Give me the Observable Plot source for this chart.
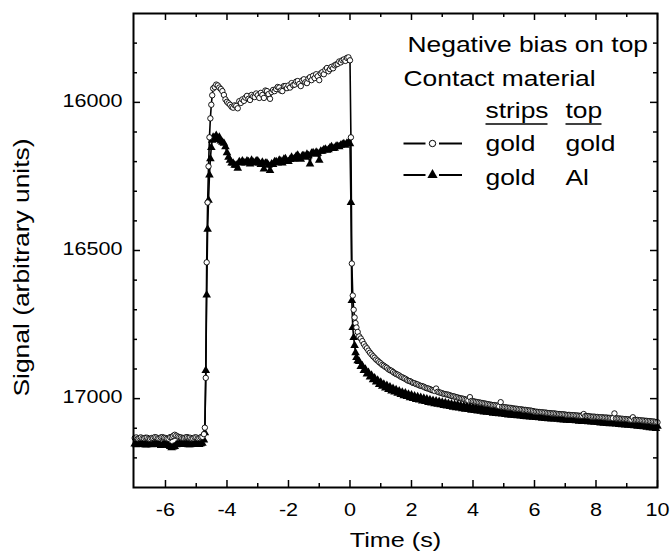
<!DOCTYPE html>
<html><head><meta charset="utf-8">
<script src="https://cdn.jsdelivr.net/npm/d3@7"></script>
<script src="https://cdn.jsdelivr.net/npm/@observablehq/plot@0.6"></script>
<style>body{margin:0;background:#fff}</style>
</head><body><div id="chart"></div>
<script>
// ---- data (time in s, signal in arbitrary units) ----
const time = [
// before the bias step
-7.00,-6.95,-6.90,-6.85,-6.80,-6.75,-6.70,-6.65,-6.60,-6.55,
-6.50,-6.45,-6.40,-6.35,-6.30,-6.25,-6.20,-6.15,-6.10,-6.05,
-6.00,-5.95,-5.90,-5.85,-5.80,-5.75,-5.70,-5.65,-5.60,-5.55,
-5.50,-5.45,-5.40,-5.35,-5.30,-5.25,-5.20,-5.15,-5.10,-5.05,
-5.00,-4.95,-4.90,-4.85,-4.80,
// rise
-4.75,-4.72,-4.69,-4.66,-4.63,-4.60,-4.57,-4.54,-4.51,-4.48,-4.45,
// plateau
-4.40,-4.35,-4.30,-4.25,-4.20,-4.15,-4.10,-4.05,-4.00,-3.95,
-3.90,-3.85,-3.80,-3.75,-3.70,-3.65,-3.60,-3.55,-3.50,-3.45,
-3.40,-3.35,-3.30,-3.25,-3.20,-3.15,-3.10,-3.05,-3.00,-2.95,
-2.90,-2.85,-2.80,-2.75,-2.70,-2.65,-2.60,-2.55,-2.50,-2.45,
-2.40,-2.35,-2.30,-2.25,-2.20,-2.15,-2.10,-2.05,-2.00,-1.95,
-1.90,-1.85,-1.80,-1.75,-1.70,-1.65,-1.60,-1.55,-1.50,-1.45,
-1.40,-1.35,-1.30,-1.25,-1.20,-1.15,-1.10,-1.05,-1.00,-0.95,
-0.90,-0.85,-0.80,-0.75,-0.70,-0.65,-0.60,-0.55,-0.50,-0.45,
-0.40,-0.35,-0.30,-0.25,-0.20,-0.15,-0.10,-0.05,0.00,
// fall
0.03,0.06,0.09,0.12,0.15,0.18,0.21,0.25,
// relaxation
0.30,0.35,0.40,0.45,0.50,0.55,0.60,0.65,0.70,0.75,
0.80,0.85,0.90,0.95,1.00,1.05,1.10,1.15,1.20,1.25,
1.30,1.35,1.40,1.45,1.50,1.55,1.60,1.65,1.70,1.75,
1.80,1.85,1.90,1.95,2.00,2.05,2.10,2.15,2.20,2.25,
2.30,2.35,2.40,2.45,2.50,2.55,2.60,2.65,2.70,2.75,
2.80,2.85,2.90,2.95,3.00,3.05,3.10,3.15,3.20,3.25,
3.30,3.35,3.40,3.45,3.50,3.55,3.60,3.65,3.70,3.75,
3.80,3.85,3.90,3.95,4.00,4.05,4.10,4.15,4.20,4.25,
4.30,4.35,4.40,4.45,4.50,4.55,4.60,4.65,4.70,4.75,
4.80,4.85,4.90,4.95,5.00,5.05,5.10,5.15,5.20,5.25,
5.30,5.35,5.40,5.45,5.50,5.55,5.60,5.65,5.70,5.75,
5.80,5.85,5.90,5.95,6.00,6.05,6.10,6.15,6.20,6.25,
6.30,6.35,6.40,6.45,6.50,6.55,6.60,6.65,6.70,6.75,
6.80,6.85,6.90,6.95,7.00,7.05,7.10,7.15,7.20,7.25,
7.30,7.35,7.40,7.45,7.50,7.55,7.60,7.65,7.70,7.75,
7.80,7.85,7.90,7.95,8.00,8.05,8.10,8.15,8.20,8.25,
8.30,8.35,8.40,8.45,8.50,8.55,8.60,8.65,8.70,8.75,
8.80,8.85,8.90,8.95,9.00,9.05,9.10,9.15,9.20,9.25,
9.30,9.35,9.40,9.45,9.50,9.55,9.60,9.65,9.70,9.75,
9.80,9.85,9.90,9.95,10.00
];
// strips: gold, top: gold (open circles)
const goldGold = [
17133,17131,17135,17133,17131,17134,17134,17132,17132,17135,
17136,17133,17133,17130,17131,17134,17134,17131,17130,17132,
17133,17135,17135,17130,17129,17126,17122,17125,17128,17130,
17131,17133,17133,17131,17130,17132,17132,17135,17134,17131,
17131,17134,17133,17130,17129,
17120,17098,16930,16540,16338,16216,16118,16054,16008,15976,15953,
15948,15940,15943,15950,15955,15962,15975,15990,15998,16003,
16008,16015,16018,16010,16012,16020,15996,16002,15990,15995,
15984,15978,15988,15992,15975,15980,15982,15970,15976,15985,
15968,15975,15985,15960,15962,15972,15988,15965,15958,15962,
15955,15948,15950,15960,15962,15945,15945,15952,15943,15950,
15935,15942,15940,15930,15928,15938,15945,15926,15922,15932,
15935,15920,15915,15925,15910,15918,15905,15912,15925,15902,
15898,15905,15890,15884,15895,15888,15880,15885,15875,15872,
15870,15862,15865,15858,15855,15860,15850,15848,15858,
16118,16544,16652,16700,16726,16745,16760,16775,
16790,16797,16806,16816,16824,16830,16838,16845,16851,16857,
16862,16868,16872,16877,16881,16886,16889,16893,16896,16901,
16904,16906,16910,16914,16917,16919,16922,16926,16928,16931,
16933,16937,16940,16941,16944,16947,16948,16951,16952,16955,
16957,16958,16960,16963,16965,16966,16968,16971,16972,16974,
16966,16977,16979,16980,16982,16984,16985,16986,16987,16989,
16991,16992,16993,16995,16996,16998,16999,17000,17001,17003,
17004,17006,16995,17008,17009,17010,17011,17012,17013,17014,
17015,17016,17017,17018,17019,17020,17021,17022,17022,17023,
17024,17026,17012,17028,17029,17029,17030,17031,17031,17032,
17033,17034,17034,17035,17036,17036,17037,17038,17038,17039,
17040,17040,17041,17042,17044,17044,17045,17045,17046,17046,
17047,17047,17048,17049,17049,17050,17050,17050,17051,17052,
17052,17053,17053,17053,17054,17055,17055,17055,17056,17056,
17056,17057,17057,17058,17058,17058,17052,17059,17059,17059,
17060,17061,17061,17061,17062,17062,17063,17063,17063,17064,
17064,17064,17065,17065,17066,17066,17050,17067,17067,17067,
17068,17068,17069,17069,17070,17070,17071,17071,17063,17072,
17072,17072,17073,17073,17074,17074,17075,17075,17076,17076,
17077,17077,17078,17079,17080
];
// strips: gold, top: Al (filled triangles)
const goldAl = [
17153,17156,17155,17152,17152,17155,17154,17157,17156,17153,
17153,17156,17155,17152,17152,17155,17154,17158,17157,17153,
17153,17155,17158,17162,17166,17163,17162,17156,17154,17152,
17152,17155,17155,17152,17153,17156,17156,17153,17154,17151,
17152,17155,17155,17152,17151,
17140,17115,16905,16650,16428,16330,16245,16190,16152,16128,16118,
16120,16112,16125,16118,16130,16135,16138,16150,16170,16185,
16195,16205,16205,16212,16212,16222,16200,16205,16198,16203,
16205,16198,16200,16208,16195,16202,16205,16198,16198,16205,
16210,16202,16225,16205,16205,16212,16230,16208,16210,16200,
16200,16205,16195,16198,16205,16192,16190,16200,16200,16193,
16185,16192,16190,16182,16178,16188,16192,16180,16180,16185,
16175,16180,16208,16172,16170,16175,16168,16172,16195,16165,
16165,16160,16158,16162,16160,16153,16150,16156,16155,16148,
16148,16150,16145,16142,16140,16145,16138,16136,16140,
16338,16669,16760,16794,16821,16845,16861,16872,
16875,16892,16889,16905,16901,16917,16912,16927,16921,16936,
16930,16944,16938,16952,16945,16958,16951,16964,16956,16969,
16961,16974,16966,16978,16970,16982,16974,16986,16978,16990,
16981,16993,16985,16997,16988,17000,16991,17003,16994,17005,
16996,17008,16999,17010,17001,17013,17004,17015,17006,17017,
17008,17019,17010,17021,17012,17023,17014,17025,17016,17027,
17018,17029,17020,17031,17021,17032,17023,17034,17025,17036,
17026,17037,17028,17039,17029,17040,17031,17042,17032,17043,
17034,17045,17035,17046,17036,17047,17038,17049,17039,17050,
17040,17051,17041,17052,17043,17054,17044,17055,17045,17056,
17046,17057,17047,17058,17048,17059,17049,17060,17050,17061,
17051,17062,17052,17063,17053,17064,17054,17065,17055,17066,
17056,17067,17057,17068,17058,17069,17059,17069,17059,17070,
17060,17071,17061,17072,17062,17073,17063,17074,17064,17074,
17064,17075,17065,17076,17066,17077,17067,17077,17067,17078,
17068,17079,17069,17080,17070,17081,17071,17082,17072,17083,
17073,17084,17074,17085,17075,17085,17075,17086,17076,17087,
17077,17088,17078,17089,17079,17090,17080,17091,17081,17092,
17082,17093,17083,17094,17084,17095,17086,17097,17087,17098,
17088,17099,17090,17101,17093
];
const xMajorTicks = [-6,-4,-2,0,2,4,6,8,10];
const xMinorTicks = [-5,-3,-1,1,3,5,7,9];
const yMajorTicks = [16000,16500,17000];
const yMinorTicks = [15800,15900,16100,16200,16300,16400,16600,16700,16800,16900,17100,17200];
const xLabel = "Time (s)";
const yLabel = "Signal (arbitrary units)";
const legendTitles = ["Negative bias on top","Contact material"];
const legendHeaders = ["strips","top"];
const legendStrips = ["gold","gold"];
const legendTop = ["gold","Al"];
const legendSymbols = ["circle","triangle"];

// ---- layout ----
const W = 671, H = 555, ML = 133, MR = 14, MT = 13, MB = 68;
const FW = W - ML - MR, FH = H - MT - MB;
const STRETCH = 1.2;
const font = "'Liberation Sans', Arial, sans-serif";
const rows = time.map((t, i) => ({t, a: goldGold[i], b: goldAl[i]}));
const hline = (w) => ({draw(ctx) { ctx.moveTo(-w / 2, 0); ctx.lineTo(w / 2, 0); }});

const legendMarks = [];
const titleDx = [274, 270], titleDy = [38, 72];
legendTitles.forEach((s, i) => legendMarks.push(
  Plot.text([s], {frameAnchor: "top-left", text: d => d, textAnchor: "start", lineAnchor: "bottom", dx: titleDx[i], dy: titleDy[i], fontSize: 22})
));
const colDx = [352, 432], ulW = [62, 36];
legendHeaders.forEach((s, i) => {
  legendMarks.push(Plot.text([s], {frameAnchor: "top-left", text: d => d, textAnchor: "start", lineAnchor: "bottom", dx: colDx[i], dy: 104, fontSize: 22}));
  legendMarks.push(Plot.dot([s], {frameAnchor: "top-left", dx: colDx[i] + ulW[i] / 2, dy: 110.5, r: 1, symbol: hline(ulW[i]), stroke: "black", strokeWidth: 1.6, fill: "none"}));
});
legendStrips.forEach((s, i) => {
  const dy = 137 + 34 * i;
  const sy = 130 + 31.5 * i;
  legendMarks.push(Plot.text([s], {frameAnchor: "top-left", text: d => d, textAnchor: "start", lineAnchor: "bottom", dx: colDx[0], dy, fontSize: 22}));
  legendMarks.push(Plot.text([legendTop[i]], {frameAnchor: "top-left", text: d => d, textAnchor: "start", lineAnchor: "bottom", dx: colDx[1], dy, fontSize: 22}));
  legendMarks.push(Plot.dot([s], {frameAnchor: "top-left", dx: 281, dy: sy, r: 1, symbol: hline(22), stroke: "black", strokeWidth: 2, fill: "none"}));
  legendMarks.push(Plot.dot([s], {frameAnchor: "top-left", dx: 317, dy: sy, r: 1, symbol: hline(23), stroke: "black", strokeWidth: 2, fill: "none"}));
  legendMarks.push(legendSymbols[i] === "circle"
    ? Plot.dot([s], {frameAnchor: "top-left", dx: 299, dy: sy, r: 3.2, symbol: "circle", fill: "white", stroke: "black", strokeWidth: 1})
    : Plot.dot([s], {frameAnchor: "top-left", dx: 299, dy: sy, r: 3.8, symbol: "triangle", fill: "black"}));
});

const chart = Plot.plot({
  width: W, height: H,
  marginLeft: ML, marginRight: MR, marginTop: MT, marginBottom: MB,
  x: {domain: [-7.04, 10], axis: null},
  y: {domain: [15700, 17300], reverse: true, axis: null},
  style: {fontFamily: font, background: "white", color: "black"},
  marks: [
    // data
    Plot.line(rows, {x: "t", y: "b", stroke: "black", strokeWidth: 1.6}),
    Plot.dot(rows, {x: "t", y: "b", r: 3.2, symbol: "triangle", fill: "black"}),
    Plot.line(rows, {x: "t", y: "a", stroke: "black", strokeWidth: 1.6}),
    Plot.dot(rows, {x: "t", y: "a", r: 2.7, symbol: "circle", fill: "white", stroke: "black", strokeWidth: 0.9}),
    // inward ticks on all four sides
    Plot.tickX(xMajorTicks, {x: d => d, insetTop: FH - 7, stroke: "black", strokeWidth: 1.5}),
    Plot.tickX(xMinorTicks, {x: d => d, insetTop: FH - 4, stroke: "black", strokeWidth: 1.5}),
    Plot.tickX(xMajorTicks, {x: d => d, insetBottom: FH - 7, stroke: "black", strokeWidth: 1.5}),
    Plot.tickX(xMinorTicks, {x: d => d, insetBottom: FH - 4, stroke: "black", strokeWidth: 1.5}),
    Plot.tickY(yMajorTicks, {y: d => d, insetRight: FW - 7, stroke: "black", strokeWidth: 1.5}),
    Plot.tickY(yMinorTicks, {y: d => d, insetRight: FW - 4, stroke: "black", strokeWidth: 1.5}),
    Plot.tickY(yMajorTicks, {y: d => d, insetLeft: FW - 7, stroke: "black", strokeWidth: 1.5}),
    Plot.tickY(yMinorTicks, {y: d => d, insetLeft: FW - 4, stroke: "black", strokeWidth: 1.5}),
    Plot.frame({stroke: "black", strokeWidth: 2}),
    // tick labels
    Plot.text(xMajorTicks, {x: d => d, frameAnchor: "bottom", text: d => String(d), textAnchor: "middle", lineAnchor: "bottom", dy: 28, fontSize: 18}),
    Plot.text(yMajorTicks, {y: d => d, frameAnchor: "left", text: d => String(d), textAnchor: "end", lineAnchor: "bottom", dx: -11, dy: 4.5, fontSize: 18}),
    // axis titles
    Plot.text([xLabel], {frameAnchor: "bottom", text: d => d, textAnchor: "middle", lineAnchor: "bottom", dy: 59, fontSize: 21}),
    Plot.text([yLabel], {frameAnchor: "left", text: d => d, textAnchor: "middle", rotate: -90, lineAnchor: "bottom", dx: -105, dy: 17, fontSize: 22}),
    ...legendMarks
  ]
});
// horizontally stretched lettering, as in the original export
chart.querySelectorAll("text").forEach(t => {
  const tr = t.getAttribute("transform") || "";
  t.setAttribute("transform", `${tr} scale(${STRETCH},1)`);
});
document.getElementById("chart").appendChild(chart);
</script>
</body></html>
